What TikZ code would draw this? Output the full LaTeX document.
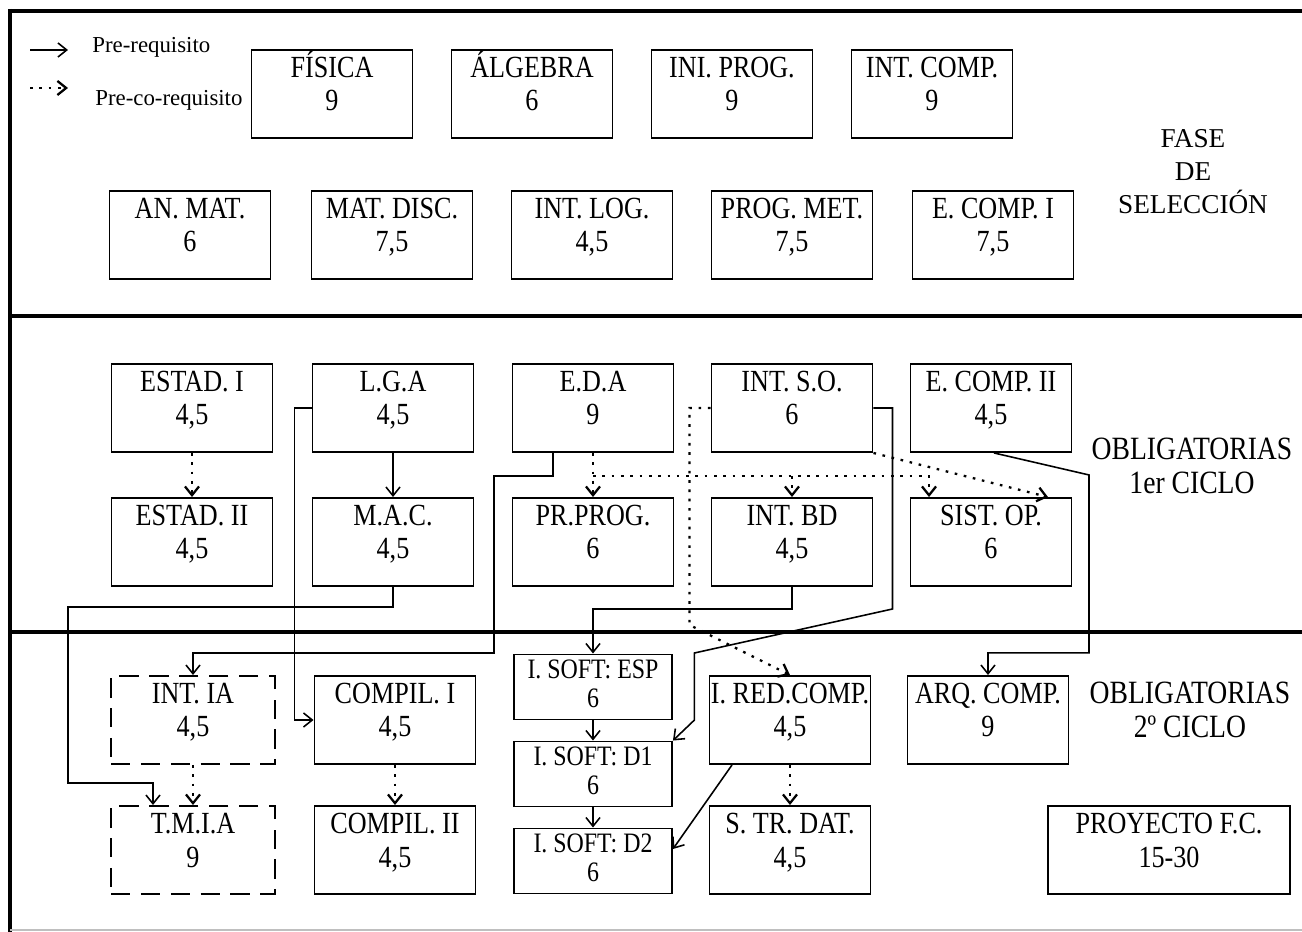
\documentclass[tikz,border=0pt]{standalone}
\usepackage{fontspec}
\setmainfont{Liberation Serif}[FakeStretch=0.85]
\newfontfamily\keyfont{Liberation Serif}
\usetikzlibrary{arrows.meta}

\begin{document}
\begin{tikzpicture}[
  x=0.02cm,
  y=-0.02cm,
  every node/.style={inner sep=0pt, align=center},
  subj/.style={draw, line width=1.1pt, minimum width=3.22cm,
    text height=1.22cm, text depth=0.54cm,
    font=\fontsize{17.5}{18.8}\selectfont},
  optsubj/.style={subj, dash pattern=on 11pt off 6pt, minimum width=3.28cm},
  softsubj/.style={subj, minimum width=3.16cm, text height=1.06cm,
    text depth=0.24cm, font=\fontsize{16}{16.5}\selectfont},
  phase/.style={font=\fontsize{18.5}{19.3}\selectfont},
  keytext/.style={font=\keyfont\fontsize{13}{15}\selectfont, anchor=west},
  band/.style={line width=2.4pt},
  req/.style={line width=0.9pt, -{Straight Barb[length=5pt,width=8pt]}},
  coreq/.style={req, line width=1.3pt, dash pattern=on 1.5pt off 3.8pt}
]
  \useasboundingbox (0,0) rectangle (1302,932);

  % ---- frame and the three bands -----------------------------------------
  \draw[band] (10,9) -- (10,932);
  \draw[band] (10,11) -- (1302,11);
  \draw[band] (10,316) -- (1302,316);
  \draw[band] (10,632) -- (1302,632);
  \draw[gray!50, line width=0.6pt] (10,930) -- (1302,930);

  % ---- key ---------------------------------------------------------------
  \coordinate (reqkey) at (30,50);
  \coordinate (coreqkey) at (30,88);
  \draw[req] (reqkey) -- ++(38,0);
  \draw[coreq] (coreqkey) -- ++(38,0);
  \node[keytext] (reqtext) at (92,47) {Pre-requisito};
  \node[keytext] (coreqtext) at (95,100) {Pre-co-requisito};

  % ---- fase de seleccion -------------------------------------------------
  \node[subj] (fis) at (332,94) {FÍSICA\\9};
  \node[subj] (alg) at (532,94) {ÁLGEBRA\\6};
  \node[subj] (iniprog) at (732,94) {INI. PROG.\\9};
  \node[subj] (intcomp) at (932,94) {INT. COMP.\\9};
  \node[subj] (anmat) at (190,235) {AN. MAT.\\6};
  \node[subj] (matdisc) at (392,235) {MAT. DISC.\\7,5};
  \node[subj] (intlog) at (592,235) {INT. LOG.\\4,5};
  \node[subj] (progmet) at (792,235) {PROG. MET.\\7,5};
  \node[subj] (ecomp1) at (993,235) {E. COMP. I\\7,5};
  \node[font=\keyfont\fontsize{15.5}{18.8}\selectfont] (fase) at (1193,172)
    {FASE\\DE\\SELECCIÓN};

  % ---- obligatorias, 1er ciclo -------------------------------------------
  \node[subj] (estad1) at (192,408) {ESTAD. I\\4,5};
  \node[subj] (lga) at (393,408) {L.G.A\\4,5};
  \node[subj] (eda) at (593,408) {E.D.A\\9};
  \node[subj] (intso) at (792,408) {INT. S.O.\\6};
  \node[subj] (ecomp2) at (991,408) {E. COMP. II\\4,5};
  \node[subj] (estad2) at (192,542) {ESTAD. II\\4,5};
  \node[subj] (mac) at (393,542) {M.A.C.\\4,5};
  \node[subj] (prprog) at (593,542) {PR.PROG.\\6};
  \node[subj] (intbd) at (792,542) {INT. BD\\4,5};
  \node[subj] (sistop) at (991,542) {SIST. OP.\\6};
  \node[phase] (ciclo1) at (1192,466) {OBLIGATORIAS\\1er CICLO};

  % ---- obligatorias, 2o ciclo --------------------------------------------
  \node[optsubj] (intia) at (193,720) {INT. IA\\4,5};
  \node[subj] (compil1) at (395,720) {COMPIL. I\\4,5};
  \node[softsubj] (softesp) at (593,687) {I. SOFT: ESP\\6};
  \node[softsubj] (softd1) at (593,774) {I. SOFT: D1\\6};
  \node[softsubj] (softd2) at (593,861) {I. SOFT: D2\\6};
  \node[subj] (redcomp) at (790,720) {I. RED.COMP.\\4,5};
  \node[subj] (arqcomp) at (988,720) {ARQ. COMP.\\9};
  \node[optsubj] (tmia) at (193,850) {T.M.I.A\\9};
  \node[subj] (compil2) at (395,850) {COMPIL. II\\4,5};
  \node[subj] (strdat) at (790,850) {S. TR. DAT.\\4,5};
  \node[subj, minimum width=4.84cm] (pfc) at (1169,850) {PROYECTO F.C.\\15-30};
  \node[phase] (ciclo2) at (1190,710) {OBLIGATORIAS\\2º CICLO};

  % ---- pre-requisitos ----------------------------------------------------
  \draw[req] (lga) -- (mac);
  \draw[req] (lga.west) -- ++(-17,0) |- (compil1.west);
  \draw[req] (mac.south) -- ++(0,20) -| ++(-325,176)
    -| ([xshift=-0.8cm]tmia.north);
  \draw[req] ([xshift=-0.8cm]eda.south) -- ++(0,23) -| ++(-59,177)
    -| (intia.north);
  \draw[req] (intso.east) -- ++(19,0) -- ++(0,201) -- ++(-198,44)
    -- ++(0,67) -- (softd1.north east);
  \draw[req] (intbd.south) -- ++(0,22) -| (softesp.north);
  \draw[req] ([xshift=0.06cm]ecomp2.south) -- ++(95,22) -- ++(0,178)
    -| (arqcomp.north);
  \draw[req] (softesp) -- (softd1);
  \draw[req] (softd1) -- (softd2);
  \draw[req] ([xshift=-1.16cm]redcomp.south) -- ([yshift=0.24cm]softd2.east);

  % ---- pre-co-requisitos -------------------------------------------------
  \draw[coreq] (estad1) -- (estad2);
  \draw[coreq] (eda) -- (prprog);
  \draw[coreq] ([yshift=-0.46cm]eda.south) -| ([xshift=-1.24cm]sistop.north);
  \draw[coreq] ([yshift=-0.46cm]eda.south -| intbd.north) -- (intbd.north);
  \draw[coreq] (intso.west) -- ++(-21,0) -- ++(0,217) -- (redcomp.north);
  \draw[coreq] (intso.south east) -- ([xshift=1.14cm]sistop.north);
  \draw[coreq] (redcomp) -- (strdat);
  \draw[coreq] (intia) -- (tmia);
  \draw[coreq] (compil1) -- (compil2);
\end{tikzpicture}
\end{document}
